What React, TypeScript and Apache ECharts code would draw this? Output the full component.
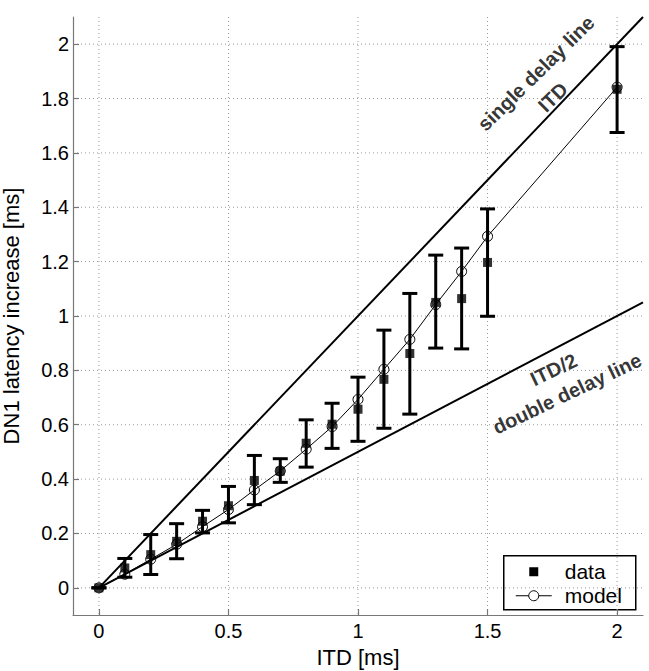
import React, { useEffect, useRef } from "react";
import * as echarts from "echarts";

// ITD values [ms]
const itd = [0, 0.1, 0.2, 0.3, 0.4, 0.5, 0.6, 0.7, 0.8, 0.9, 1.0, 1.1, 1.2, 1.3, 1.4, 1.5, 2.0];
// measured DN1 latency increase [ms]
const dataMean = [0, 0.073, 0.122, 0.171, 0.245, 0.302, 0.395, 0.429, 0.532, 0.602, 0.657, 0.767, 0.862, 1.05, 1.064, 1.197, 1.834];
const dataLow = [0, 0.039, 0.049, 0.107, 0.202, 0.239, 0.306, 0.388, 0.444, 0.513, 0.539, 0.587, 0.639, 0.882, 0.879, 0.999, 1.675];
const dataHigh = [0, 0.108, 0.196, 0.236, 0.285, 0.373, 0.487, 0.475, 0.618, 0.679, 0.775, 0.948, 1.083, 1.224, 1.25, 1.394, 1.991];
// model prediction
const modelVals = [0, 0.05, 0.105, 0.16, 0.225, 0.288, 0.36, 0.43, 0.51, 0.593, 0.693, 0.804, 0.914, 1.042, 1.164, 1.293, 1.842];

// reference lines
const singleDelay = [[0, 0], [2.1, 2.1]];
const doubleDelay = [[0, 0], [2.1, 1.05]];

// axes
const xRange = [-0.1, 2.1];
const yRange = [-0.1, 2.1];
const xTicks = [0, 0.5, 1, 1.5, 2];
const yTicks = [0, 0.2, 0.4, 0.6, 0.8, 1, 1.2, 1.4, 1.6, 1.8, 2];

// annotations: [x, y, text, angle]
const annotations: [number, number, string, number][] = [
  [1.687, 1.893, "single delay line", 44.5],
  [1.752, 1.805, "ITD", 44.5],
  [1.755, 0.803, "ITD/2", 25.5],
  [1.807, 0.715, "double delay line", 25.5],
];

const FONT = "'Liberation Sans', Arial, Helvetica, sans-serif";
const TICK_FS = 20;
const NAME_FS = 22;
const LEGEND_FS = 21;
const ANNOT_FS = 20;

export default function App() {
  const ref = useRef<HTMLDivElement>(null);

  useEffect(() => {
    if (!ref.current) return;
    const chart = echarts.init(ref.current, undefined, { renderer: "svg" });

    const gridStyle = { stroke: "#999", lineWidth: 1, lineDash: [1, 3] };

    const option: any = {
      animation: false,
      backgroundColor: "#fff",
      textStyle: { fontFamily: FONT },
      grid: { left: 73, right: 6, top: 17, bottom: 56, containLabel: false, outerBoundsMode: "none" },
      xAxis: {
        type: "value",
        min: xRange[0],
        max: xRange[1],
        name: "ITD [ms]",
        nameLocation: "middle",
        nameGap: 31,
        nameTextStyle: { color: "#000", fontSize: NAME_FS, fontFamily: FONT },
        axisLine: { show: true, onZero: false, lineStyle: { color: "#777", width: 1.2 } },
        axisTick: { show: true, inside: true, length: 6, customValues: xTicks, lineStyle: { color: "#777", width: 1.2 } },
        axisLabel: { customValues: xTicks, color: "#000", fontSize: TICK_FS, fontFamily: FONT, margin: 6 },
        splitLine: { show: false },
      },
      yAxis: {
        type: "value",
        min: yRange[0],
        max: yRange[1],
        name: "DN1 latency increase [ms]",
        nameLocation: "middle",
        nameGap: 51,
        nameTextStyle: { color: "#000", fontSize: NAME_FS, fontFamily: FONT },
        axisLine: { show: true, onZero: false, lineStyle: { color: "#777", width: 1.2 } },
        axisTick: { show: true, inside: true, length: 6, customValues: yTicks, lineStyle: { color: "#777", width: 1.2 } },
        axisLabel: { customValues: yTicks, color: "#000", fontSize: TICK_FS, fontFamily: FONT, margin: 4 },
        splitLine: { show: false },
      },
      series: [
        {
          type: "custom",
          name: "xgrid",
          silent: true,
          z: 0,
          data: xTicks.map((v) => [v, 0]),
          encode: { x: 0, y: 1 },
          renderItem: (params: any, api: any) => {
            const p = api.coord([api.value(0), 0]);
            const cs = params.coordSys;
            return { type: "line", shape: { x1: p[0], y1: cs.y, x2: p[0], y2: cs.y + cs.height }, style: gridStyle };
          },
        },
        {
          type: "custom",
          name: "ygrid",
          silent: true,
          z: 0,
          data: yTicks.map((v) => [0, v]),
          encode: { x: 0, y: 1 },
          renderItem: (params: any, api: any) => {
            const p = api.coord([0, api.value(1)]);
            const cs = params.coordSys;
            return { type: "line", shape: { x1: cs.x, y1: p[1], x2: cs.x + cs.width, y2: p[1] }, style: gridStyle };
          },
        },
        {
          type: "line",
          name: "single",
          data: singleDelay,
          symbol: "none",
          lineStyle: { color: "#000", width: 2 },
          silent: true,
          z: 2,
        },
        {
          type: "line",
          name: "double",
          data: doubleDelay,
          symbol: "none",
          lineStyle: { color: "#000", width: 2 },
          silent: true,
          z: 2,
        },
        {
          type: "custom",
          name: "errorbars",
          z: 3,
          data: itd.map((x, i) => [x, dataLow[i], dataHigh[i]]),
          encode: { x: 0, y: [1, 2] },
          renderItem: (params: any, api: any) => {
            const x = api.value(0);
            const pLo = api.coord([x, api.value(1)]);
            const pHi = api.coord([x, api.value(2)]);
            const w = 7.5;
            const style = { stroke: "#000", lineWidth: 3 };
            return {
              type: "group",
              children: [
                { type: "line", shape: { x1: pLo[0], y1: pLo[1], x2: pHi[0], y2: pHi[1] }, style },
                { type: "line", shape: { x1: pLo[0] - w, y1: pLo[1], x2: pLo[0] + w, y2: pLo[1] }, style },
                { type: "line", shape: { x1: pHi[0] - w, y1: pHi[1], x2: pHi[0] + w, y2: pHi[1] }, style },
              ],
            };
          },
        },
        {
          type: "line",
          name: "model",
          data: itd.map((x, i) => [x, modelVals[i]]),
          symbol: "circle",
          symbolSize: 10,
          showSymbol: true,
          lineStyle: { color: "#000", width: 1 },
          itemStyle: { color: "rgba(255,255,255,0)", borderColor: "#000", borderWidth: 1 },
          z: 4,
        },
        {
          type: "scatter",
          name: "data",
          data: itd.map((x, i) => [x, dataMean[i]]),
          symbol: "rect",
          symbolSize: 9,
          itemStyle: { color: "#000" },
          z: 5,
        },
        {
          type: "scatter",
          name: "annotations",
          silent: true,
          symbolSize: 0,
          z: 6,
          data: annotations.map(([x, y, t, a]) => ({
            value: [x, y],
            label: {
              show: true,
              formatter: t,
              rotate: a,
              position: "inside",
              align: "center",
              verticalAlign: "middle",
              color: "#000",
              fontSize: ANNOT_FS,
              fontWeight: "bold",
              fontFamily: FONT,
            },
          })),
        },
      ],
      graphic: [
        {
          type: "group",
          left: 503,
          top: 555,
          z: 100,
          children: [
            { type: "rect", shape: { x: 0, y: 0, width: 132, height: 54 }, style: { fill: "#fff", stroke: "#000", lineWidth: 1.5 } },
            { type: "rect", shape: { x: 25.5, y: 11.5, width: 9, height: 9 }, style: { fill: "#000" } },
            { type: "line", shape: { x1: 12, y1: 40, x2: 48, y2: 40 }, style: { stroke: "#000", lineWidth: 1 } },
            { type: "circle", shape: { cx: 30, cy: 40, r: 5 }, style: { fill: "#fff", stroke: "#000", lineWidth: 1 } },
            { type: "text", x: 61, y: 16, style: { text: "data", fill: "#000", font: `${LEGEND_FS}px ${FONT}`, verticalAlign: "middle" } },
            { type: "text", x: 61, y: 40, style: { text: "model", fill: "#000", font: `${LEGEND_FS}px ${FONT}`, verticalAlign: "middle" } },
          ],
        },
      ],
    };

    chart.setOption(option);
    return () => chart.dispose();
  }, []);

  return (
    <div
      ref={ref}
      style={{ position: "absolute", left: 0, top: 0, width: 649, height: 671, background: "#fff" }}
    />
  );
}
